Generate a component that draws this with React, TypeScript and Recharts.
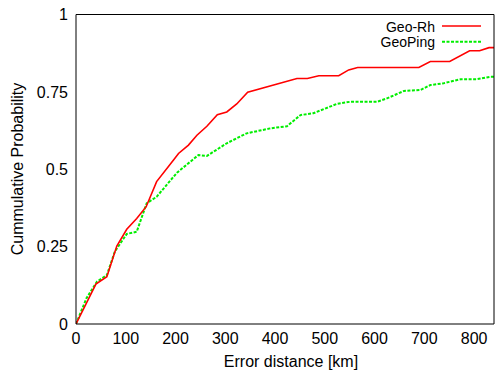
import { LineChart, Line, XAxis, YAxis } from "recharts";

// Geo-Rh (red, solid)
const rhKm = [0, 40, 62, 82, 102, 122, 141, 162, 196, 206, 226, 243, 263, 284, 303, 323, 345, 444, 465, 488, 528, 548, 566, 689, 712, 751, 791, 811, 830, 840];
const rhProb = [0, 0.129, 0.153, 0.252, 0.306, 0.341, 0.379, 0.46, 0.53, 0.551, 0.578, 0.61, 0.639, 0.676, 0.685, 0.711, 0.749, 0.793, 0.793, 0.802, 0.802, 0.821, 0.829, 0.829, 0.848, 0.848, 0.883, 0.883, 0.893, 0.893];

// GeoPing (green, dashed)
const pingKm = [0, 21, 42, 62, 78, 102, 122, 142, 162, 203, 246, 263, 303, 343, 390, 424, 451, 477, 524, 551, 605, 625, 659, 692, 712, 739, 773, 806, 833, 840];
const pingProb = [0, 0.083, 0.137, 0.158, 0.234, 0.291, 0.298, 0.39, 0.411, 0.489, 0.546, 0.543, 0.584, 0.616, 0.632, 0.639, 0.675, 0.681, 0.711, 0.718, 0.718, 0.729, 0.753, 0.756, 0.772, 0.778, 0.791, 0.791, 0.799, 0.799];

const xTicks = [0, 100, 200, 300, 400, 500, 600, 700, 800];
const yTicks = [0, 0.25, 0.5, 0.75, 1];

const rhData = rhKm.map((x, i) => ({ x, y: rhProb[i] }));
const pingData = pingKm.map((x, i) => ({ x, y: pingProb[i] }));

const font = '"Liberation Sans", Arial, sans-serif';
const tickStyle = { fontSize: 16, fill: "#000", fontFamily: font };

export default function App() {
  return (
    <div style={{ position: "absolute", left: 0, top: 0, width: 495, height: 374, fontFamily: font, background: "#fff" }}>
      <LineChart width={495} height={374} data={rhData} margin={{ top: 14.5, right: 1, bottom: 0, left: 0 }}>
        {/* labelled axes, no tick lines */}
        <XAxis
          dataKey="x"
          type="number"
          domain={[0, 840]}
          ticks={xTicks}
          allowDataOverflow
          height={50}
          tickSize={0}
          tickLine={false}
          tickMargin={9}
          axisLine={{ stroke: "#000" }}
          tick={tickStyle}
        />
        <YAxis
          type="number"
          domain={[0, 1]}
          ticks={yTicks}
          allowDataOverflow
          width={76}
          tickSize={0}
          tickLine={false}
          tickMargin={8}
          axisLine={{ stroke: "#000" }}
          tick={tickStyle}
        />
        {/* inward ticks + frame */}
        <XAxis xAxisId="b2" type="number" domain={[0, 840]} ticks={xTicks} allowDataOverflow orientation="bottom" mirror tick={false} axisLine={false} tickSize={5} tickLine={{ stroke: "#000" }} />
        <XAxis xAxisId="t" type="number" domain={[0, 840]} ticks={xTicks} allowDataOverflow orientation="top" mirror tick={false} axisLine={{ stroke: "#000" }} tickSize={5} tickLine={{ stroke: "#000" }} />
        <YAxis yAxisId="l2" type="number" domain={[0, 1]} ticks={yTicks} allowDataOverflow orientation="left" mirror tick={false} axisLine={false} tickSize={5} tickLine={{ stroke: "#000" }} />
        <YAxis yAxisId="r" type="number" domain={[0, 1]} ticks={yTicks} allowDataOverflow orientation="right" mirror tick={false} axisLine={{ stroke: "#000" }} tickSize={5} tickLine={{ stroke: "#000" }} />

        <Line data={pingData} dataKey="y" type="linear" stroke="#00ee00" strokeWidth={2} strokeDasharray="3 1.5" dot={false} isAnimationActive={false} />
        <Line data={rhData} dataKey="y" type="linear" stroke="#ff0000" strokeWidth={1.6} dot={false} isAnimationActive={false} />
      </LineChart>

      {/* legend */}
      <div style={{ position: "absolute", right: 60, top: 19, fontSize: 14, lineHeight: "16px", whiteSpace: "nowrap" }}>Geo-Rh</div>
      <div style={{ position: "absolute", right: 60, top: 34, fontSize: 14, lineHeight: "16px", whiteSpace: "nowrap" }}>GeoPing</div>
      <svg style={{ position: "absolute", left: 0, top: 0 }} width={495} height={60}>
        <line x1={442} x2={481} y1={26} y2={26} stroke="#ff0000" strokeWidth={1.6} />
        <line x1={442} x2={481} y1={41.7} y2={41.7} stroke="#00ee00" strokeWidth={2} strokeDasharray="3 1.5" />
      </svg>

      {/* axis titles */}
      <div style={{ position: "absolute", left: 291, top: 353, transform: "translateX(-50%)", fontSize: 16, lineHeight: "18px", whiteSpace: "nowrap" }}>
        Error distance [km]
      </div>
      <div style={{ position: "absolute", left: 18, top: 169, transform: "translate(-50%, -50%) rotate(-90deg)", fontSize: 16, lineHeight: "18px", whiteSpace: "nowrap" }}>
        Cummulative Probability
      </div>
    </div>
  );
}
